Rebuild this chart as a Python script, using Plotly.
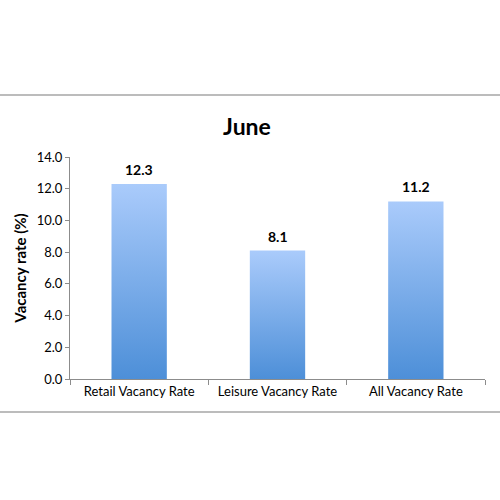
import plotly.graph_objects as go

# Data
categories = ["Retail Vacancy Rate", "Leisure Vacancy Rate", "All Vacancy Rate"]
rates = [12.3, 8.1, 11.2]
y_ticks = [0, 2, 4, 6, 8, 10, 12, 14]

half_w = 0.2
bar_top = "#aacbfb"
bar_bottom = "#4d8fd8"

fig = go.Figure()

# gradient bars drawn as filled polygons
for i, v in enumerate(rates):
    fig.add_trace(go.Scatter(
        x=[i - half_w, i + half_w, i + half_w, i - half_w, i - half_w],
        y=[0, 0, v, v, 0],
        mode="lines", fill="toself", line=dict(width=0),
        fillgradient=dict(type="vertical", colorscale=[[0, bar_bottom], [1, bar_top]],
                          start=0, stop=v),
        hoverinfo="skip", showlegend=False))

# value labels
annotations = []
for i, v in enumerate(rates):
    annotations.append(dict(x=i, y=v, text=f"<b>{v:.1f}</b>", showarrow=False, yanchor="bottom",
                            yshift=4, font=dict(size=14, color="black")))

# frame lines above and below the chart
shapes = []
for yp in [1.279, -0.149]:
    shapes.append(dict(type="line", xref="paper", yref="paper", x0=-0.3, x1=1.2, y0=yp, y1=yp,
                       line=dict(color="#a6a6a6", width=1.5)))

fig.update_layout(
    width=500, height=500,
    margin=dict(l=70, r=15, t=157, b=121),
    plot_bgcolor="white", paper_bgcolor="white",
    font=dict(family="Lato, Open Sans, sans-serif", color="black", size=13),
    shapes=shapes, annotations=annotations,
    title=dict(text="<b>June</b>", x=0.494, xanchor="center", y=0.746, yanchor="middle",
               font=dict(size=23, color="black")),
)
fig.update_xaxes(range=[-0.5, 2.5], tickvals=[0, 1, 2], ticktext=categories, ticks="",
                 showline=True, linecolor="#8c8c8c", linewidth=1, showgrid=False, zeroline=False,
                 tickfont=dict(size=13), automargin=False,
                 minor=dict(tickvals=[-0.5, 0.5, 1.5, 2.5], ticks="outside", ticklen=5,
                            tickcolor="#8c8c8c", showgrid=False))
fig.update_yaxes(range=[0, 14], tickvals=y_ticks, tickformat=".1f", ticks="outside", ticklen=4,
                 tickcolor="#8c8c8c", showline=True, linecolor="#8c8c8c", linewidth=1,
                 showgrid=False, zeroline=False, tickfont=dict(size=13), automargin=False,
                 title=dict(text="<b>Vacancy rate (%)</b>", font=dict(size=15), standoff=6))

fig.write_html("out.html", config={"displayModeBar": False},
               post_script="document.body.style.margin='0';")
